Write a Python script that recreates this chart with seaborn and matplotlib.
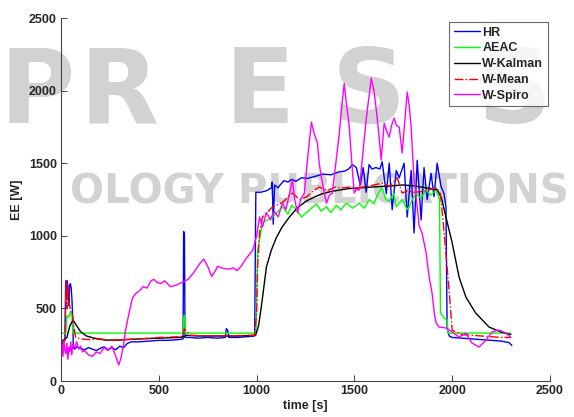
import numpy as np
import pandas as pd
import seaborn as sns
import matplotlib.pyplot as plt

# --- data (time [s], EE [W]) ---
hr_t = [0, 10, 20, 24, 28, 32, 36, 40, 44, 48, 52, 56, 60, 63, 70, 80, 100, 120, 140, 160,
        180, 200, 220, 240, 260, 280, 300, 320, 340, 360, 400, 450, 500, 550, 600, 624, 627,
        631, 634, 660, 700, 750, 800, 840, 845, 852, 858, 900, 950, 990, 996, 1020, 1050, 1075,
        1080, 1085, 1092, 1110, 1120, 1140, 1160, 1180, 1200, 1230, 1260, 1300, 1340, 1380,
        1420, 1450, 1470, 1490, 1510, 1530, 1545, 1560, 1575, 1590, 1610, 1630, 1642, 1663,
        1678, 1693, 1714, 1729, 1754, 1770, 1790, 1805, 1821, 1841, 1856, 1872, 1892, 1907,
        1923, 1943, 1958, 1968, 1974, 1985, 2000, 2050, 2100, 2150, 2200, 2250, 2290, 2305]
hr_v = [260, 270, 280, 690, 560, 690, 620, 520, 660, 670, 640, 560, 420, 230, 220, 235, 225,
        215, 230, 220, 210, 225, 235, 215, 230, 215, 240, 230, 260, 270, 270, 275, 280, 280,
        285, 290, 1030, 1010, 300, 300, 295, 300, 295, 300, 360, 350, 300, 300, 305, 310, 1300,
        1300, 1310, 1330, 1370, 1080, 1350, 1330, 1350, 1380, 1370, 1390, 1375, 1400, 1395,
        1410, 1425, 1420, 1440, 1445, 1460, 1490, 1470, 1350, 1470, 1300, 1490, 1460, 1470,
        1460, 1510, 1290, 1500, 1180, 1450, 1400, 1500, 1130, 1450, 1020, 1520, 1110, 1470,
        1250, 1430, 1270, 1500, 1340, 1290, 1200, 360, 310, 300, 295, 290, 285, 280, 275, 265, 245]

aeac_t = [0, 25, 30, 40, 50, 56, 60, 300, 620, 626, 628, 634, 636, 990, 997, 1000, 1005, 1030,
          1081, 1132, 1160, 1180, 1204, 1230, 1255, 1280, 1306, 1330, 1357, 1380, 1408, 1430,
          1459, 1490, 1525, 1550, 1576, 1600, 1620, 1642, 1660, 1678, 1700, 1714, 1744, 1770,
          1780, 1800, 1816, 1840, 1867, 1890, 1918, 1935, 1940, 1960, 1975, 1978, 2000, 2300]
aeac_v = [330, 330, 450, 440, 480, 450, 330, 330, 330, 330, 450, 450, 330, 330, 330, 570, 900,
          1090, 1130, 1200, 1150, 1210, 1180, 1130, 1160, 1190, 1220, 1170, 1200, 1160, 1210,
          1180, 1225, 1190, 1225, 1190, 1250, 1220, 1290, 1330, 1250, 1240, 1290, 1200, 1250,
          1180, 1200, 1260, 1290, 1260, 1315, 1280, 1315, 1250, 470, 430, 420, 330, 330, 330]

kalman_t = [0, 30, 45, 62, 80, 100, 130, 170, 224, 300, 400, 500, 600, 630, 640, 700, 800,
            900, 995, 1010, 1025, 1050, 1075, 1100, 1130, 1168, 1210, 1255, 1300, 1336, 1380,
            1423, 1470, 1525, 1580, 1642, 1700, 1744, 1800, 1867, 1923, 1945, 1968, 2000, 2035,
            2070, 2120, 2188, 2254, 2300]
kalman_v = [270, 300, 380, 420, 380, 340, 310, 295, 282, 282, 290, 295, 300, 305, 315, 310, 310,
            310, 315, 380, 520, 785, 900, 985, 1060, 1130, 1195, 1240, 1270, 1290, 1305, 1315,
            1325, 1330, 1335, 1340, 1345, 1350, 1345, 1330, 1320, 1260, 1130, 950, 716, 578, 468,
            372, 335, 320]

mean_t = [0, 20, 26, 30, 36, 42, 50, 60, 65, 75, 100, 150, 200, 250, 300, 400, 500, 600, 625,
          630, 645, 660, 800, 990, 1000, 1005, 1015, 1030, 1081, 1132, 1183, 1220, 1255, 1290,
          1321, 1360, 1400, 1440, 1474, 1520, 1560, 1600, 1642, 1680, 1719, 1744, 1770, 1800,
          1850, 1890, 1918, 1940, 1960, 1984, 2000, 2050, 2150, 2250, 2300]
mean_v = [240, 280, 690, 500, 660, 540, 470, 450, 380, 300, 290, 285, 290, 280, 285, 290, 300,
          305, 310, 360, 340, 315, 310, 315, 468, 785, 1019, 1130, 1198, 1230, 1294, 1250, 1267,
          1310, 1336, 1310, 1335, 1330, 1336, 1330, 1340, 1350, 1363, 1340, 1398, 1294, 1310,
          1300, 1305, 1320, 1329, 1290, 1000, 626, 350, 320, 310, 300, 300]

spiro_t = [0, 5, 10, 15, 20, 25, 30, 35, 40, 45, 50, 55, 60, 70, 80, 90, 100, 110, 120, 140,
           160, 180, 200, 220, 240, 260, 280, 295, 305, 320, 330, 345, 365, 380, 400, 420, 440,
           460, 475, 490, 510, 530, 560, 590, 620, 650, 680, 710, 730, 750, 770, 790, 800, 830,
           860, 880, 900, 920, 950, 980, 990, 1000, 1015, 1030, 1050, 1070, 1090, 1110, 1132,
           1150, 1170, 1183, 1195, 1209, 1225, 1244, 1262, 1280, 1295, 1311, 1320, 1331, 1345,
           1357, 1372, 1387, 1405, 1423, 1436, 1448, 1460, 1474, 1487, 1499, 1510, 1525, 1540,
           1560, 1586, 1600, 1612, 1625, 1637, 1652, 1665, 1678, 1690, 1703, 1715, 1729, 1744,
           1758, 1770, 1780, 1790, 1805, 1821, 1831, 1846, 1867, 1882, 1897, 1910, 1918, 1933,
           1969, 2000, 2035, 2070, 2101, 2137, 2173, 2203, 2239, 2275, 2300]
spiro_v = [200, 250, 170, 280, 210, 190, 260, 150, 230, 200, 270, 180, 250, 230, 270, 220, 240,
           200, 210, 180, 170, 200, 190, 230, 210, 240, 170, 110, 150, 250, 350, 450, 570, 600,
           620, 650, 640, 690, 700, 680, 670, 690, 650, 660, 680, 700, 750, 810, 840, 790, 720,
           760, 790, 775, 770, 780, 760, 790, 850, 900, 950, 1000, 1130, 1060, 1160, 1110, 1170,
           1130, 1225, 1180, 1300, 1384, 1250, 1157, 1250, 1294, 1550, 1783, 1700, 1639, 1500,
           1405, 1300, 1225, 1280, 1294, 1500, 1708, 1900, 2050, 1900, 1749, 1500, 1294, 1320,
           1315, 1522, 1800, 2086, 2000, 1866, 1700, 1522, 1776, 1720, 1680, 1760, 1811, 1760,
           1749, 1570, 1800, 1990, 1900, 1749, 1384, 1198, 1070, 1019, 881, 716, 606, 450, 399,
           372, 365, 337, 303, 330, 262, 234, 282, 337, 351, 330, 300]

series = [
    ("HR", hr_t, hr_v, "#0000ff", "-"),
    ("AEAC", aeac_t, aeac_v, "#00ff00", "-"),
    ("W-Kalman", kalman_t, kalman_v, "#000000", "-"),
    ("W-Mean", mean_t, mean_v, "#ff0000", "-."),
    ("W-Spiro", spiro_t, spiro_v, "#ff00ff", "-"),
]

sns.set_theme(style="ticks")
plt.rcParams["font.family"] = ["Liberation Sans", "DejaVu Sans"]
plt.rcParams["font.weight"] = "bold"

fig = plt.figure(figsize=(5.74, 4.17), dpi=100)
ax = fig.add_axes([0.1063, 0.0863, 0.8519, 0.8705])
ax.set_facecolor("none")

# publisher watermark behind the plot
wm = "#d2d2d2"
for letter, xpos in [("P", 0.0), ("R", 0.138), ("E", 0.392), ("S", 0.578), ("S", 0.832)]:
    fig.text(xpos, 0.705, letter, fontsize=74, fontweight="bold", color=wm,
             family="DejaVu Sans", zorder=-5)
fig.text(0.122, 0.513, "OLOGY PUBLICATIONS", fontsize=29, fontweight="bold", color=wm,
         family="DejaVu Sans", zorder=-5)

for name, t, v, col, ls in series:
    sns.lineplot(x=t, y=v, ax=ax, color=col, linestyle=ls, linewidth=1.0,
                 label=name, estimator=None, sort=False)

ax.set_xlim(0, 2500)
ax.set_ylim(0, 2500)
ax.set_xticks(np.arange(0, 2501, 500))
ax.set_yticks(np.arange(0, 2501, 500))
ax.tick_params(direction="in", length=4, width=0.7, color="#444444", labelsize=9,
               pad=3)
for lab in ax.get_xticklabels() + ax.get_yticklabels():
    lab.set_fontweight("bold")
for s in ["top", "right"]:
    ax.spines[s].set_visible(False)
for s in ["left", "bottom"]:
    ax.spines[s].set_color("#444444")
    ax.spines[s].set_linewidth(0.8)

ax.set_xlabel("time [s]", fontsize=9, fontweight="bold", labelpad=2)
ax.set_ylabel("EE [W]", fontsize=9, fontweight="bold", labelpad=4)

leg = ax.legend(loc="upper right", bbox_to_anchor=(0.995, 0.988), fontsize=9,
                frameon=True, fancybox=False, handlelength=2.1, handletextpad=0.2,
                labelspacing=0.3, borderpad=0.35, borderaxespad=0)
leg.get_frame().set_edgecolor("#444444")
leg.get_frame().set_linewidth(0.8)
for txt in leg.get_texts():
    txt.set_fontweight("bold")

fig.savefig("out.png", dpi=100)
